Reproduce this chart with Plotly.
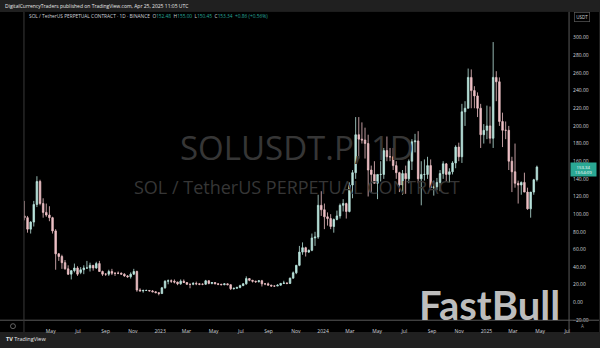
import pandas as pd
import plotly.graph_objects as go

# Weekly OHLC values (week centres, Thursday)
week_start = "2022-03-03"
opens = [98, 96, 83, 91, 111, 137, 112, 102, 99, 96, 81, 55, 52, 45, 38, 32, 36, 39, 34, 37, 39, 39, 42, 39, 44, 35, 32, 32, 35, 33, 33, 33, 32, 30, 29, 32, 35, 14, 13, 13.5, 13.5, 13, 12, 11,
         10, 16.5, 24, 24.5, 24, 23, 21, 24, 22.5, 20.5, 20.5, 21.5, 21, 20.5, 20.5, 24.5, 21.5, 22.5, 21, 20.5, 20, 21, 20, 15.5, 16, 17, 19, 21, 27, 25, 24, 23.5, 24.5, 21, 21, 19.5, 18.5, 18.5, 19.5, 21.5, 22, 21.5, 27.5, 33.5, 42, 57, 62, 57, 59, 73, 74, 110,
         105, 97, 95, 86, 94, 98, 110, 112, 103, 133, 147, 190, 185, 184, 180, 150, 145, 135, 145, 145, 172, 165, 165, 155, 147, 133, 146, 140, 160, 182, 183, 140, 145, 145, 155, 130, 131, 136, 146, 157, 145, 148, 158, 176, 165, 216, 220, 255, 240, 234, 220, 190, 195,
         200, 186, 255, 250, 205, 195, 195, 160, 148, 135, 133, 136, 125, 106, 125, 139]
highs = [115, 98, 92, 115, 143, 139, 118, 112, 109, 97, 83, 56, 54, 48, 42, 33, 44, 41, 40, 42, 47, 45, 42, 46, 47, 36, 33, 37, 38, 34, 35, 34, 33, 31, 34, 38, 36, 16, 14.5, 14.5, 14, 14, 12.5, 11.5,
         17.5, 25, 26, 26, 26, 23.5, 26, 26, 23, 21, 23, 23.5, 21.5, 21.5, 25.5, 25, 23, 23, 21.5, 21, 21.5, 21.5, 20.5, 16.5, 17.5, 20, 22, 29.5, 27.5, 25.5, 24.5, 25, 25.5, 21.5, 22.5, 20, 19, 20.5, 22, 24.5, 22.5, 28, 35, 42.5, 64, 68, 63, 60, 78, 80, 122, 126,
         112, 102, 100, 95, 104, 112, 117, 113, 136, 150, 210, 210, 204, 198, 190, 155, 160, 145, 160, 175, 188, 175, 175, 160, 148, 150, 155, 162, 185, 191, 194, 160, 162, 165, 162, 138, 141, 150, 160, 158, 152, 160, 178, 181, 225, 228, 265, 264, 245, 238, 225, 202, 223,
         222, 295, 262, 255, 215, 205, 200, 165, 180, 138, 137, 147, 130, 120, 140, 155]
lows = [93, 79, 78, 86, 108, 110, 96, 97, 92, 78, 37, 47, 38, 37, 31, 26, 34, 30, 32, 32, 38, 35, 36, 38, 35, 30, 30, 30, 31, 30, 32, 32, 29, 28, 27, 31, 12, 12.5, 11, 13, 12.5, 11.5, 10.5, 8,
        9.8, 15.5, 20.5, 22, 21.5, 19.5, 20, 22, 20, 16, 19.5, 19.5, 19.5, 19.5, 20, 20.5, 20.5, 20.5, 19.5, 19.5, 19.5, 19.5, 14, 14.5, 15.5, 16, 18.5, 20, 24, 22.5, 22, 22.5, 18, 19.5, 19.5, 18, 17.5, 18.5, 19, 21, 20.5, 21, 27, 32, 41, 54, 52, 56, 58, 64, 72, 98,
        83, 87, 83, 79, 93, 95, 103, 95, 102, 118, 140, 163, 180, 163, 120, 125, 135, 117, 137, 140, 160, 160, 150, 140, 125, 122, 123, 135, 150, 170, 135, 110, 138, 140, 130, 121, 127, 126, 140, 137, 136, 145, 152, 160, 158, 200, 220, 220, 220, 210, 175, 180, 185,
        180, 175, 228, 200, 176, 185, 150, 125, 130, 112, 122, 125, 105, 96, 122, 137]
closes = [96, 83, 91, 111, 137, 112, 102, 99, 96, 81, 55, 52, 45, 38, 32, 36, 39, 32, 37, 39, 39, 42, 39, 44, 35, 32, 32, 35, 33, 33, 33, 32, 30, 29, 32, 35, 14, 13, 13.5, 13.5, 13, 12, 11, 10,
          16.5, 24, 24.5, 24, 23, 21, 24, 22.5, 20.5, 20.5, 21.5, 21, 20.5, 20.5, 24.5, 21.5, 22.5, 21, 20.5, 20, 21, 20, 15.5, 16, 17, 19, 21, 27, 25, 24, 23.5, 24.5, 21, 21, 19.5, 18.5, 18.5, 19.5, 21.5, 22, 21.5, 27.5, 33.5, 42, 57, 62, 57, 59, 73, 74, 110, 105,
          97, 95, 86, 94, 98, 110, 112, 103, 133, 147, 190, 185, 184, 180, 150, 145, 135, 145, 145, 172, 165, 165, 155, 147, 133, 146, 140, 160, 182, 183, 140, 145, 145, 155, 130, 131, 136, 146, 157, 145, 148, 158, 176, 165, 216, 220, 255, 240, 234, 220, 190, 195, 200,
          186, 255, 250, 205, 195, 195, 160, 148, 135, 133, 136, 125, 106, 125, 139, 153.34]

tick_dates = ["2022-05-01", "2022-07-01", "2022-09-01", "2022-11-01", "2023-01-01", "2023-03-01", "2023-05-01",
              "2023-07-01", "2023-09-01", "2023-11-01", "2024-01-01", "2024-03-01", "2024-05-01", "2024-07-01",
              "2024-09-01", "2024-11-01", "2025-01-01", "2025-03-01", "2025-05-01", "2025-07-01"]
tick_text = ["May", "Jul", "Sep", "Nov", "2023", "Mar", "May", "Jul", "Sep", "Nov", "2024", "Mar", "May",
             "Jul", "Sep", "Nov", "2025", "Mar", "May", "Jul"]
price_ticks = [-20, 0, 20, 40, 60, 80, 100, 120, 140, 160, 180, 200, 220, 240, 260, 280, 300]

dates = pd.date_range(week_start, periods=len(closes), freq="7D")

W, H = 600, 348
def px(x): return x / W
def py(y): return 1 - y / H

fig = go.Figure(go.Candlestick(
    x=dates, open=opens, high=highs, low=lows, close=closes,
    increasing=dict(line=dict(color="#b9e3dc", width=0.8), fillcolor="#b9e3dc"),
    decreasing=dict(line=dict(color="#eec0c5", width=0.8), fillcolor="#eec0c5"),
    whiskerwidth=0, hoverinfo="skip",
))

font = "Open Sans, DejaVu Sans, sans-serif"
fig.update_layout(
    width=W, height=H, margin=dict(l=0, r=0, t=0, b=0),
    paper_bgcolor="#202020", plot_bgcolor="#000000", showlegend=False,
    font=dict(family=font, color="#d1d4dc", size=5),
    xaxis=dict(domain=[px(24), px(570)], range=["2022-03-02", "2025-07-05"], rangeslider=dict(visible=False),
               tickvals=tick_dates, ticktext=tick_text, showgrid=False, zeroline=False, ticks="",
               ticklabelstandoff=7, tickfont=dict(size=5, color="#d1d4dc"), showline=False),
    yaxis=dict(domain=[py(323), py(12)], range=[-20.2, 329.2], side="right", tickvals=price_ticks,
               tickformat=".2f", showgrid=False, zeroline=False, ticks="", ticklabelstandoff=3,
               tickfont=dict(size=5, color="#d1d4dc"), showline=False),
)

shapes = [
    dict(type="rect", xref="paper", yref="paper", x0=0, x1=1, y0=py(335), y1=py(12),
         fillcolor="#000000", line=dict(width=0), layer="below"),
    dict(type="line", xref="paper", yref="paper", x0=0, x1=1, y0=py(323), y1=py(323),
         line=dict(color="#5a5a5a", width=1)),
    dict(type="line", xref="paper", yref="paper", x0=px(570), x1=px(570), y0=py(335), y1=py(12),
         line=dict(color="#5a5a5a", width=1)),
    dict(type="line", xref="paper", yref="paper", x0=px(24), x1=px(24), y0=py(335), y1=py(12),
         line=dict(color="#3a3a3a", width=1)),
    dict(type="circle", xref="paper", yref="paper", x0=px(10.5), x1=px(15.5), y0=py(331.5), y1=py(326.5),
         line=dict(color="#8a8a8a", width=0.7)),
]
fig.update_layout(shapes=shapes)

teal = "#26a69a"
legend_txt = ("SOL / TetherUS PERPETUAL CONTRACT · 1D · BINANCE  "
              f"O<span style='color:{teal}'>152.48</span>  H<span style='color:{teal}'>155.00</span>  "
              f"L<span style='color:{teal}'>150.45</span>  C<span style='color:{teal}'>153.34</span>  "
              f"<span style='color:{teal}'>+0.86 (+0.56%)</span>")

ann = [
    dict(text="DigitalCurrencyTraders published on TradingView.com, Apr 25, 2025 11:05 UTC",
         x=px(3), y=py(6), xanchor="left", yanchor="middle", font=dict(size=5, color="#e8e8e8")),
    dict(text=legend_txt, x=px(27), y=py(16), xanchor="left", yanchor="middle", font=dict(size=4.8, color="#d1d4dc")),
    dict(text="SOLUSDT.P, 1D", x=px(297), y=py(149), xanchor="center", yanchor="middle",
         font=dict(size=33, color="#363636", family=font)),
    dict(text="SOL / TetherUS PERPETUAL CONTRACT", x=px(297), y=py(189), xanchor="center", yanchor="middle",
         font=dict(size=18, color="#363636", family=font)),
    dict(text="USDT", x=px(583), y=py(17.5), xanchor="center", yanchor="middle", bgcolor="#000000",
         bordercolor="#5a5a5a", borderwidth=0.7, borderpad=1.5, font=dict(size=4.5, color="#d1d4dc")),
    dict(text="153.34<br>13:54:09", x=px(584), y=py(170.5), xanchor="center", yanchor="middle", bgcolor="#2aa894",
         borderpad=0.5, width=24, font=dict(size=4.3, color="#ffffff"), align="center"),
    dict(text="<b>FastBull</b>", x=px(490), y=py(308), xanchor="center", yanchor="middle", height=34, valign="middle",
         font=dict(size=40, color="#bdbdbd", family="Lato, Inter, sans-serif")),
    dict(text="<b>TV</b> TradingView", x=px(4), y=py(341.5), xanchor="left", yanchor="middle",
         font=dict(size=5.5, color="#e8e8e8")),
    dict(text="A", x=px(583), y=py(329), xanchor="center", yanchor="middle", font=dict(size=4.5, color="#9a9a9a")),
]
for a in ann:
    a.setdefault("xref", "paper"); a.setdefault("yref", "paper"); a.setdefault("showarrow", False)
fig.update_layout(annotations=ann)

fig.write_html("out.html")
